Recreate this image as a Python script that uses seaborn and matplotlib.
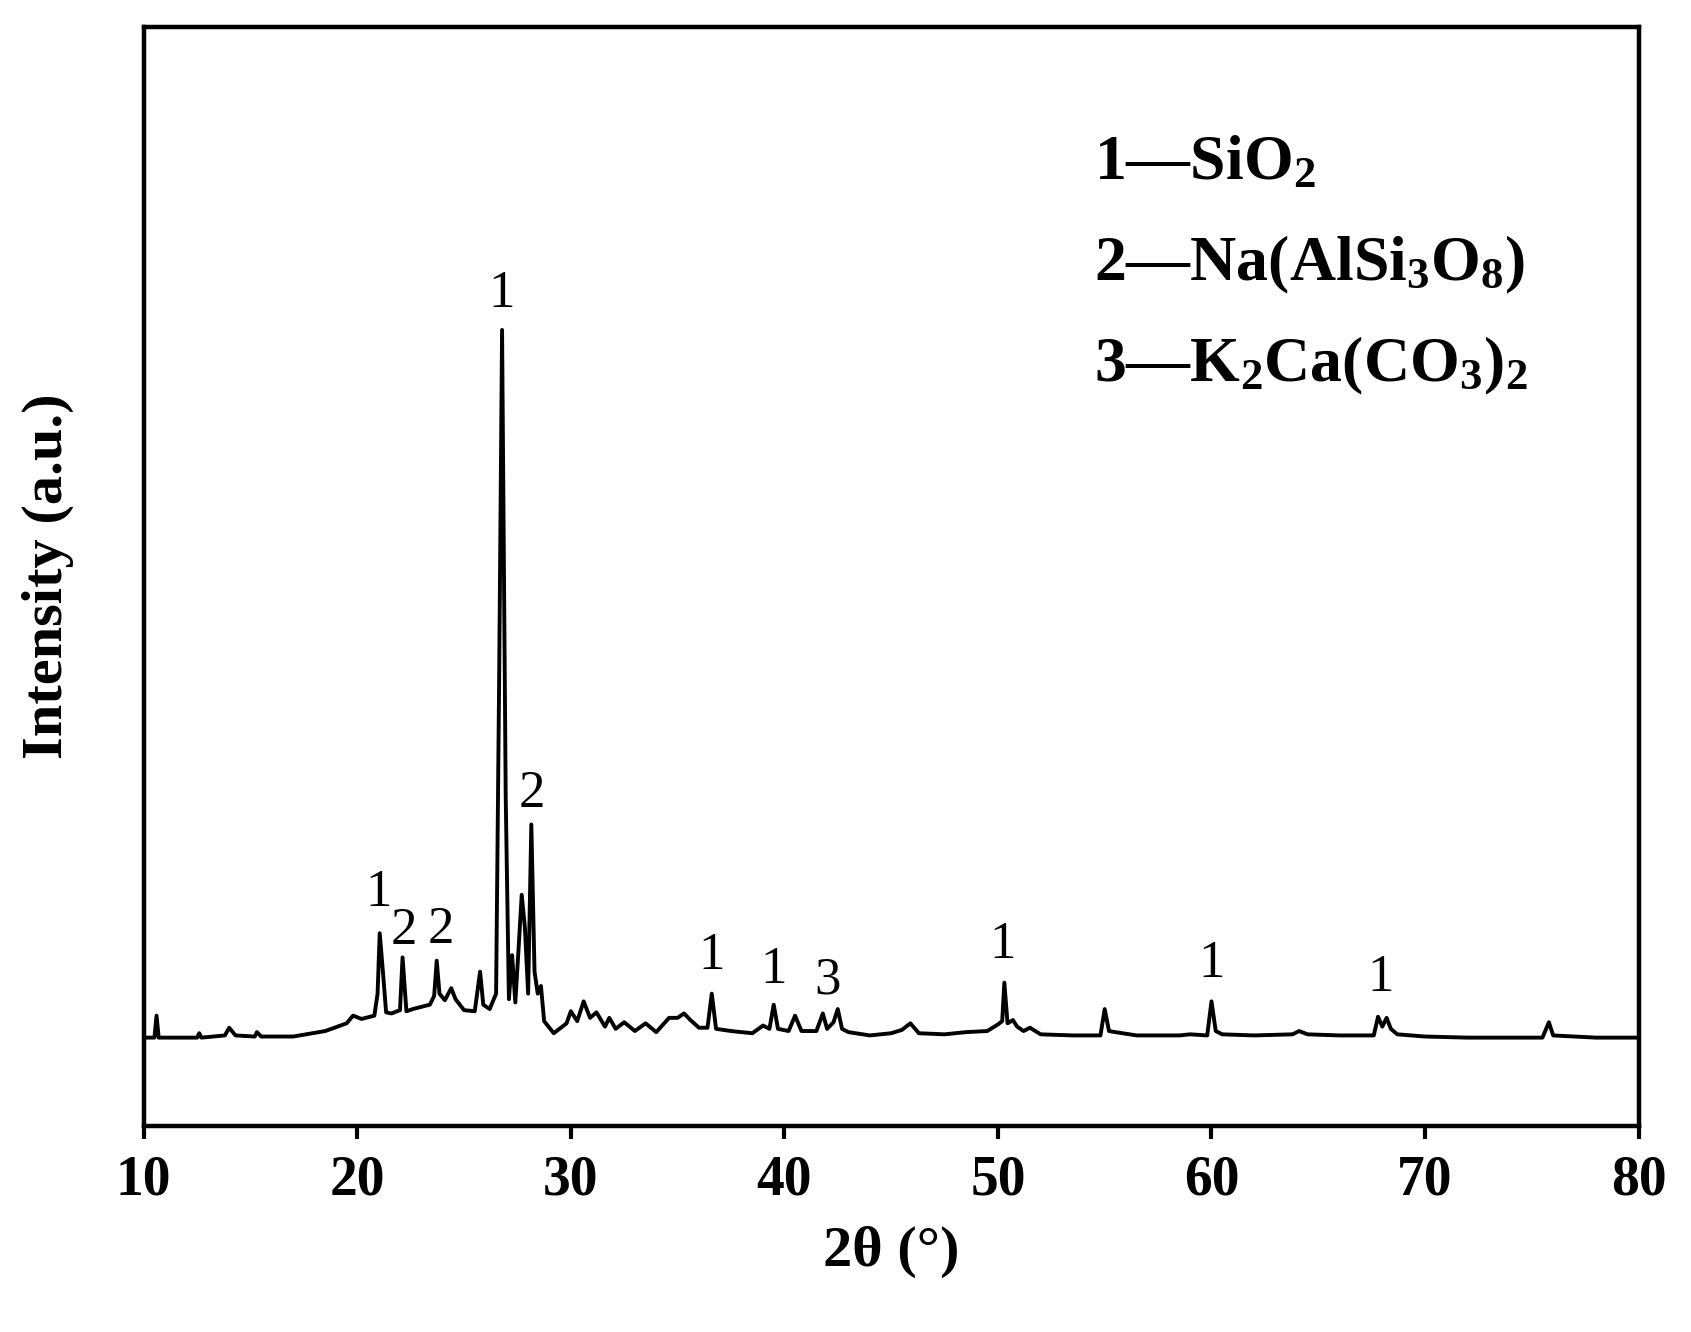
import matplotlib
matplotlib.use("Agg")
import matplotlib.pyplot as plt
import seaborn as sns
import pandas as pd

two_theta = [10.0, 10.5, 10.6, 10.7, 11.0, 12.5, 12.6, 12.7, 13.8, 14.0, 14.3, 15.2, 15.3, 15.5, 17.0, 18.5, 19.5, 19.8, 20.2, 20.8, 20.95, 21.05, 21.2, 21.35, 21.6,
             22.0, 22.12, 22.3, 22.6, 23.0, 23.4, 23.6, 23.72, 23.85, 24.1, 24.4, 24.6, 25.0, 25.5, 25.75, 25.9, 26.2, 26.5, 26.64, 26.78, 26.95, 27.1, 27.25, 27.4,
             27.55, 27.7, 27.85, 28.0, 28.15, 28.3, 28.45, 28.6, 28.75, 29.2, 29.8, 30.0, 30.3, 30.6, 30.9, 31.2, 31.6, 31.8, 32.1, 32.5, 33.0, 33.5, 34.0,
             34.6, 35.0, 35.3, 35.6, 36.0, 36.4, 36.6, 36.8, 37.5, 38.5, 39.0, 39.3, 39.5, 39.7, 40.2, 40.5, 40.8, 41.5, 41.8, 42.0, 42.3, 42.5, 42.7, 43.0,
             44.0, 45.0, 45.5, 45.9, 46.3, 47.5, 48.5, 49.5, 50.0, 50.2, 50.3, 50.45, 50.7, 50.9, 51.2, 51.5, 52.0, 53.5, 54.8, 55.0, 55.2, 55.5, 56.5, 58.5,
             59.0, 59.8, 60.0, 60.2, 60.5, 62.0, 63.8, 64.1, 64.5, 66.0, 67.6, 67.8, 68.0, 68.2, 68.4, 68.7, 70.0, 72.0, 73.5, 75.5, 75.8, 76.0, 78.0, 80.0]
intensity = [8.0, 8.0, 10.0, 8.0, 8.0, 8.0, 8.4, 8.0, 8.2, 8.9, 8.2, 8.1, 8.5, 8.1, 8.1, 8.6, 9.3, 10.0, 9.7, 10.0, 12.0, 17.5, 14.0, 10.3, 10.2,
             10.5, 15.3, 10.4, 10.6, 10.8, 11.0, 11.8, 15.0, 12.0, 11.4, 12.5, 11.5, 10.5, 10.4, 14.0, 11.0, 10.6, 12.0, 40.0, 72.4, 30.0, 11.5, 15.5, 11.2,
             16.0, 21.0, 18.0, 12.0, 27.4, 14.0, 12.0, 12.7, 9.5, 8.4, 9.3, 10.4, 9.5, 11.3, 9.8, 10.3, 9.0, 9.8, 8.8, 9.4, 8.6, 9.3, 8.5,
             9.8, 9.8, 10.2, 9.6, 8.9, 8.9, 12.0, 8.8, 8.6, 8.4, 9.1, 8.8, 11.0, 8.8, 8.6, 10.0, 8.6, 8.6, 10.2, 8.8, 9.4, 10.6, 8.8, 8.5,
             8.2, 8.4, 8.7, 9.3, 8.4, 8.3, 8.5, 8.6, 9.2, 9.5, 13.0, 9.3, 9.6, 9.0, 8.6, 8.9, 8.3, 8.2, 8.2, 10.6, 8.6, 8.5, 8.2, 8.2,
             8.3, 8.2, 11.3, 8.6, 8.3, 8.2, 8.3, 8.6, 8.3, 8.2, 8.2, 9.9, 9.0, 9.8, 8.8, 8.3, 8.1, 8.0, 8.0, 8.0, 9.4, 8.2, 8.0, 8.0]

labels = ["1", "2", "2", "1", "2", "1", "1", "3", "1", "1", "1"]
label_x = [21.0, 22.2, 23.9, 26.75, 28.15, 36.6, 39.5, 42.0, 50.2, 60.0, 67.9]
label_y = [19.0, 15.5, 15.6, 73.5, 28.0, 13.2, 12.0, 11.0, 14.2, 12.5, 11.2]
legend_lines = [r"1—SiO$_2$", r"2—Na(AlSi$_3$O$_8$)", r"3—K$_2$Ca(CO$_3$)$_2$"]

sns.set_theme(style="ticks")
plt.rcParams["font.family"] = ["Liberation Serif", "DejaVu Serif"]
plt.rcParams["text.color"] = "black"
plt.rcParams["axes.labelcolor"] = "black"
plt.rcParams["xtick.color"] = "black"
plt.rcParams["mathtext.fontset"] = "custom"
plt.rcParams["mathtext.rm"] = "Liberation Serif:bold"
plt.rcParams["mathtext.it"] = "Liberation Serif:bold"
plt.rcParams["mathtext.bf"] = "Liberation Serif:bold"

fig = plt.figure(figsize=(16.91, 13.32), dpi=100)
ax = fig.add_axes([0.085, 0.155, 0.884, 0.825])
df = pd.DataFrame({"x": two_theta, "y": intensity})
sns.lineplot(data=df, x="x", y="y", ax=ax, color="black", linewidth=2.8, sort=False)
ax.set_xlim(10, 80)
ax.set_ylim(0, 100)
ax.set_yticks([])
ax.set_xticks(range(10, 81, 10))
for sp in ax.spines.values():
    sp.set_linewidth(3.2)
    sp.set_color("black")
ax.tick_params(axis="x", direction="out", length=9, width=3, labelsize=40, pad=12, colors="black")
for t in ax.get_xticklabels():
    t.set_fontweight("bold")
ax.set_xlabel("2θ (°)", fontsize=42, fontweight="bold", labelpad=14)
ax.set_ylabel("Intensity (a.u.)", fontsize=42, fontweight="bold", labelpad=50)
for s, x, y in zip(labels, label_x, label_y):
    ax.text(x, y, s, ha="center", va="bottom", fontsize=38, color="black")
for i, s in enumerate(legend_lines):
    ax.text(0.636, 0.875 - i * 0.092, s, transform=ax.transAxes, fontsize=46,
            fontweight="bold", ha="left", va="center", color="black")
fig.savefig("out.png", dpi=100)
